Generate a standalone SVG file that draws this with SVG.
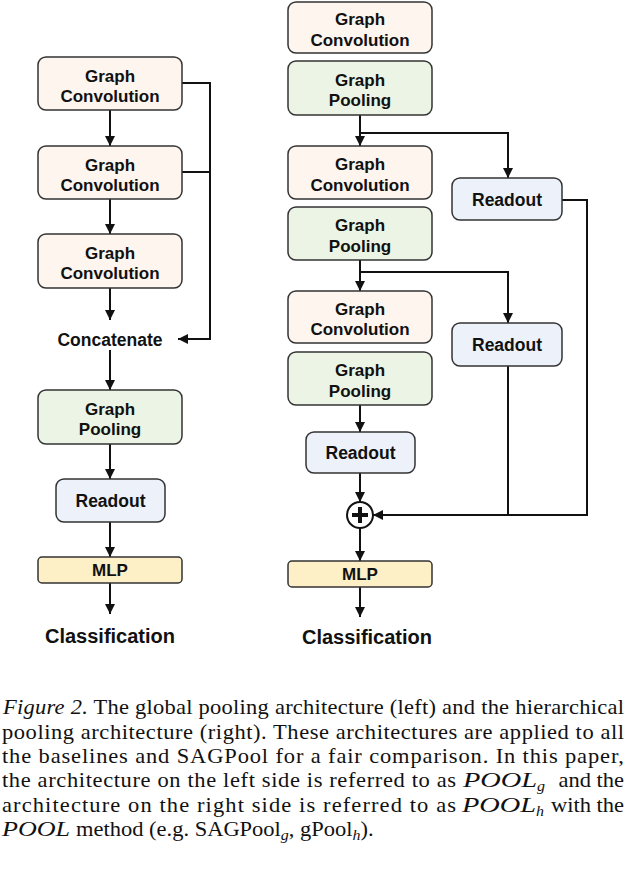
<svg xmlns="http://www.w3.org/2000/svg" width="627" height="869" viewBox="0 0 627 869">
<style>
.box{stroke:#333;stroke-width:1.5}
.gc{fill:#fdf5ee}
.gp{fill:#ecf4e5}
.ro{fill:#edf1fa}
.mlp{fill:#fdefc6}
.lbl{font-family:"Liberation Sans",Arial,sans-serif;font-weight:bold;font-size:17px;fill:#111;text-anchor:middle}
.big{font-size:17.5px}
.cls{font-size:20px}
.ln{fill:none;stroke:#111;stroke-width:2}
.cap{font-family:"Liberation Serif","Times New Roman",serif;font-size:22.5px;fill:#111}
.it{font-style:italic}
.sub{font-size:16px;font-style:italic}
</style>
<defs>
<marker id="ah" viewBox="0 0 10 10" refX="10" refY="5" markerWidth="5" markerHeight="5" markerUnits="strokeWidth" orient="auto">
<path d="M0,0 L10,5 L0,10 z" fill="#111"/>
</marker>
</defs>

<g id="connectors">
<path class="ln" d="M110,110 V146" marker-end="url(#ah)"/>
<path class="ln" d="M110,199 V234" marker-end="url(#ah)"/>
<path class="ln" d="M110,288 V320" marker-end="url(#ah)"/>
<path class="ln" d="M110,350 V390" marker-end="url(#ah)"/>
<path class="ln" d="M110,444 V479" marker-end="url(#ah)"/>
<path class="ln" d="M110,522 V557" marker-end="url(#ah)"/>
<path class="ln" d="M110,583 V614" marker-end="url(#ah)"/>
<path class="ln" d="M182,83 H210 V339 H178" marker-end="url(#ah)"/>
<path class="ln" d="M182,172 H210"/>

<path class="ln" d="M360,115 V146" marker-end="url(#ah)"/>
<path class="ln" d="M360,133 H508 V178" marker-end="url(#ah)"/>
<path class="ln" d="M360,260 V291" marker-end="url(#ah)"/>
<path class="ln" d="M360,272 H508 V323" marker-end="url(#ah)"/>
<path class="ln" d="M360,405 V432" marker-end="url(#ah)"/>
<path class="ln" d="M360,473 V502" marker-end="url(#ah)"/>
<path class="ln" d="M360,528 V561" marker-end="url(#ah)"/>
<path class="ln" d="M360,587 V617" marker-end="url(#ah)"/>
<path class="ln" d="M562,200 H587 V515 H373" marker-end="url(#ah)"/>
<path class="ln" d="M508,366 V515"/>
</g>

<g id="l-gc1"><rect class="box gc" x="38" y="57" width="144" height="53" rx="8"/><text class="lbl" x="110" y="81.5">Graph</text><text class="lbl" x="110" y="102">Convolution</text></g>
<g id="l-gc2"><rect class="box gc" x="38" y="146" width="144" height="53" rx="8"/><text class="lbl" x="110" y="170.5">Graph</text><text class="lbl" x="110" y="191">Convolution</text></g>
<g id="l-gc3"><rect class="box gc" x="38" y="234" width="144" height="54" rx="8"/><text class="lbl" x="110" y="258.5">Graph</text><text class="lbl" x="110" y="279">Convolution</text></g>
<g id="l-concat"><text class="lbl big" x="110" y="346">Concatenate</text></g>
<g id="l-gp"><rect class="box gp" x="38" y="390" width="144" height="54" rx="8"/><text class="lbl" x="110" y="414.5">Graph</text><text class="lbl" x="110" y="435">Pooling</text></g>
<g id="l-ro"><rect class="box ro" x="56" y="479" width="109" height="43" rx="8"/><text class="lbl big" x="110.5" y="507">Readout</text></g>
<g id="l-mlp"><rect class="box mlp" x="38" y="557" width="144" height="26" rx="4"/><text class="lbl" x="110" y="576">MLP</text></g>
<g id="l-cls"><text class="lbl cls" x="110" y="643">Classification</text></g>

<g id="r-gc1"><rect class="box gc" x="288" y="2" width="144" height="51" rx="8"/><text class="lbl" x="360" y="25">Graph</text><text class="lbl" x="360" y="45.5">Convolution</text></g>
<g id="r-gp1"><rect class="box gp" x="288" y="61" width="144" height="54" rx="8"/><text class="lbl" x="360" y="85.5">Graph</text><text class="lbl" x="360" y="106">Pooling</text></g>
<g id="r-gc2"><rect class="box gc" x="288" y="146" width="144" height="53" rx="8"/><text class="lbl" x="360" y="170">Graph</text><text class="lbl" x="360" y="190.5">Convolution</text></g>
<g id="r-gp2"><rect class="box gp" x="288" y="207" width="144" height="53" rx="8"/><text class="lbl" x="360" y="231">Graph</text><text class="lbl" x="360" y="251.5">Pooling</text></g>
<g id="r-gc3"><rect class="box gc" x="288" y="291" width="144" height="52" rx="8"/><text class="lbl" x="360" y="314.5">Graph</text><text class="lbl" x="360" y="335">Convolution</text></g>
<g id="r-gp3"><rect class="box gp" x="288" y="352" width="144" height="53" rx="8"/><text class="lbl" x="360" y="376">Graph</text><text class="lbl" x="360" y="396.5">Pooling</text></g>
<g id="r-ro3"><rect class="box ro" x="306" y="432" width="109" height="41" rx="8"/><text class="lbl big" x="360.5" y="459">Readout</text></g>
<g id="r-ro1"><rect class="box ro" x="452" y="178" width="110" height="42" rx="8"/><text class="lbl big" x="507" y="205.5">Readout</text></g>
<g id="r-ro2"><rect class="box ro" x="452" y="323" width="110" height="43" rx="8"/><text class="lbl big" x="507" y="351">Readout</text></g>
<g id="r-sum"><circle cx="360" cy="515" r="13" fill="#fff" stroke="#111" stroke-width="2"/><path d="M352,515 H368 M360,507 V523" stroke="#111" stroke-width="4"/></g>
<g id="r-mlp"><rect class="box mlp" x="288" y="561" width="144" height="26" rx="4"/><text class="lbl" x="360" y="580">MLP</text></g>
<g id="r-cls"><text class="lbl cls" x="367" y="644">Classification</text></g>

<g id="caption" transform="matrix(1,0,0,0.9,0,0)">
<text class="cap" x="3" y="793.3" textLength="621" lengthAdjust="spacing"><tspan class="it">Figure 2.</tspan> The global pooling architecture (left) and the hierarchical</text>
<text class="cap" x="2" y="821.1" textLength="622" lengthAdjust="spacing">pooling architecture (right). These architectures are applied to all</text>
<text class="cap" x="2" y="847.8" textLength="622" lengthAdjust="spacing">the baselines and SAGPool for a fair comparison. In this paper,</text>
<text class="cap" x="2" y="874.4" textLength="454" lengthAdjust="spacing">the architecture on the left side is referred to as</text>
<text class="cap it" x="463" y="874.4" textLength="74" lengthAdjust="spacingAndGlyphs">POOL</text>
<text class="cap sub" x="537" y="878.4">g</text>
<text class="cap" x="624" y="874.4" text-anchor="end">and the</text>
<text class="cap" x="2" y="902.2" textLength="454" lengthAdjust="spacing">architecture on the right side is referred to as</text>
<text class="cap it" x="462" y="902.2" textLength="74" lengthAdjust="spacingAndGlyphs">POOL</text>
<text class="cap sub" x="536" y="906.2">h</text>
<text class="cap" x="624" y="902.2" text-anchor="end">with the</text>
<text class="cap it" x="2" y="928.9" textLength="68" lengthAdjust="spacingAndGlyphs">POOL</text>
<text class="cap" x="76" y="928.9">method (e.g. SAGPool<tspan class="sub" dy="4">g</tspan><tspan dy="-4">, gPool</tspan><tspan class="sub" dy="4">h</tspan><tspan dy="-4">).</tspan></text>
</g>
</svg>
